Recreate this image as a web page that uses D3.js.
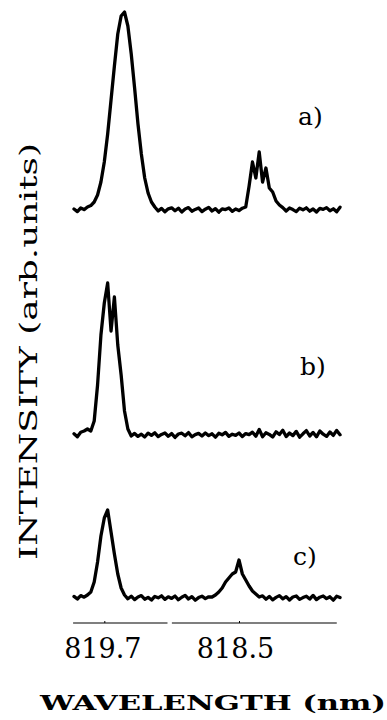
<!DOCTYPE html>
<html>
<head>
<meta charset="utf-8">
<script src="https://cdn.jsdelivr.net/npm/d3@7"></script>
<style>
  html, body { margin: 0; padding: 0; background: #fff; }
  svg { display: block; }
</style>
</head>
<body>
<svg id="chart" width="387" height="720"></svg>
<script>
// Sample wavelengths (nm)
const wavelengths = [819.97,819.94,819.91,819.88,819.85,819.82,819.79,819.76,819.73,819.70,
  819.67,819.64,819.61,819.58,819.55,819.52,819.49,819.46,819.43,819.40,
  819.37,819.34,819.31,819.28,819.25,819.22,819.19,819.16,819.13,819.10,
  819.07,819.04,819.01,818.98,818.95,818.92,818.89,818.86,818.83,818.80,
  818.77,818.74,818.71,818.68,818.65,818.62,818.59,818.56,818.53,818.50,
  818.47,818.44,818.41,818.38,818.35,818.32,818.29,818.26,818.23,818.20,
  818.17,818.14,818.11,818.08,818.05,818.02,817.99,817.96,817.93,817.90,
  817.87,817.84,817.81,817.78,817.75,817.72,817.69,817.66,817.63,817.60];

// Intensity (arb. units) for the three spectra
const intensityA = [0.5,-0.8,1.0,0.2,1.5,2.2,4.0,7.5,14,24,
  38,55,72,88,97,99,92,78,61,43,
  28,16,8.5,4,1.5,-0.5,0.8,-0.9,0.6,1.1,
  -0.4,0.9,-1.0,0.5,1.2,-0.6,0.3,1.0,-0.8,0.4,
  1.3,-0.5,0.7,-1.1,0.6,0.2,1.0,-0.7,0.5,-0.3,
  0.9,1.5,12,24,16,29,14,21,11,9,
  4.5,2.5,1.2,-0.5,1.0,0.2,-0.8,0.9,0.1,1.1,
  -0.6,0.5,-1.0,0.8,0.3,1.2,-0.4,0.6,-0.9,1.4];

const intensityB = [0.6,-0.9,1.4,2.0,3.0,2.0,7,25,50,66,
  76,52,69,45,30,12,3,-0.5,0.8,-0.7,
  0.4,-1.0,0.9,-0.2,1.1,-0.8,0.3,1.0,-0.6,0.7,
  -1.2,0.5,0.9,-0.4,1.2,-0.9,0.2,0.8,-0.5,1.0,
  -0.3,0.6,-1.1,0.9,0.1,1.3,-0.7,0.4,-0.2,1.0,
  -0.8,0.7,0.2,1.4,-0.6,2.8,-0.9,1.1,0.3,-1.0,
  1.6,0.2,2.4,-0.8,1.0,-0.3,1.8,-1.1,0.6,2.2,
  -0.5,1.3,-0.9,2.0,0.4,-0.7,1.5,-0.2,2.3,0.1];

const intensityC = [0.8,-0.5,1.2,0.4,1.5,3,8,18,31,40,
  44,33,22,12,5,1.5,-0.4,0.9,-0.8,0.5,
  1.2,-0.6,0.3,-1.0,0.8,0.1,1.1,-0.7,0.6,-0.2,
  1.0,-0.9,0.4,1.3,-0.5,0.7,-1.1,0.2,0.9,-0.3,
  0.6,0.5,1.5,3,5,8,10,12,13,19,
  12,9,6,3.5,2,0.5,1.1,-0.6,0.8,-0.9,
  0.3,1.2,-0.4,0.7,-1.0,0.5,1.0,-0.7,0.2,0.9,
  -0.5,1.3,-0.8,0.4,1.0,-0.3,0.6,-1.1,0.9,0.2];

const panelLabels = ["a)", "b)", "c)"];
const tickValues = [819.7, 818.5];
const tickLabels = ["819.7", "818.5"];
// axis drawn as two pieces (broken axis), in nm
const axisSegments = [[819.978, 819.137], [819.098, 817.629]];
const xTitle = "WAVELENGTH (nm)";
const yTitle = "INTENSITY (arb.units)";

const svg = d3.select("#chart");
const serif = "'DejaVu Serif', 'Liberation Serif', serif";

const x = d3.scaleLinear().domain([819.7, 818.5]).range([104.3, 239]);

const panels = [
  { values: intensityA, label: panelLabels[0], y: d3.scaleLinear().domain([0, 100]).range([210, 10]), lx: 298, ly: 125 },
  { values: intensityB, label: panelLabels[1], y: d3.scaleLinear().domain([0, 100]).range([435, 235]), lx: 300, ly: 375 },
  { values: intensityC, label: panelLabels[2], y: d3.scaleLinear().domain([0, 100]).range([598, 398]), lx: 293, ly: 565 }
];

panels.forEach(p => {
  const data = wavelengths.map((w, i) => ({ w, v: p.values[i] }));
  const line = d3.line().x(d => x(d.w)).y(d => p.y(d.v));
  svg.append("path")
    .datum(data)
    .attr("d", line)
    .attr("fill", "none")
    .attr("stroke", "#000")
    .attr("stroke-width", 3.3)
    .attr("stroke-linejoin", "round")
    .attr("stroke-linecap", "round");
  svg.append("text")
    .attr("x", p.lx).attr("y", p.ly)
    .attr("font-family", serif)
    .attr("font-size", 25)
    .attr("fill", "#000")
    .text(p.label);
});

// x axis
const axisY = 623;
const axis = d3.axisBottom(x)
  .tickValues(tickValues)
  .tickFormat((d, i) => tickLabels[i])
  .tickSizeInner(-2)
  .tickSizeOuter(0)
  .tickPadding(16);
const gAxis = svg.append("g").attr("transform", `translate(0,${axisY})`).call(axis);
gAxis.select(".domain").remove();
gAxis.selectAll(".tick line").attr("stroke", "#000").attr("stroke-width", 1);
gAxis.selectAll(".tick text")
  .attr("font-family", serif)
  .attr("font-size", 27)
  .attr("fill", "#000")
  .attr("dx", (d, i) => i === 0 ? -2 : -4);
gAxis.selectAll(".axis-seg")
  .data(axisSegments)
  .enter().append("line")
  .attr("class", "axis-seg")
  .attr("x1", d => x(d[0])).attr("x2", d => x(d[1]))
  .attr("y1", 0).attr("y2", 0)
  .attr("stroke", "#000").attr("stroke-width", 1.2);

// axis titles
svg.append("text")
  .attr("x", 40).attr("y", 710)
  .attr("font-family", serif)
  .attr("font-weight", "bold")
  .attr("font-size", 21)
  .attr("textLength", 346)
  .attr("lengthAdjust", "spacingAndGlyphs")
  .attr("fill", "#000")
  .text(xTitle);

svg.append("text")
  .attr("transform", "translate(37,560) rotate(-90)")
  .attr("x", 0).attr("y", 0)
  .attr("font-family", serif)
  .attr("font-size", 24)
  .attr("textLength", 417)
  .attr("lengthAdjust", "spacingAndGlyphs")
  .attr("fill", "#000")
  .text(yTitle);
</script>
</body>
</html>
